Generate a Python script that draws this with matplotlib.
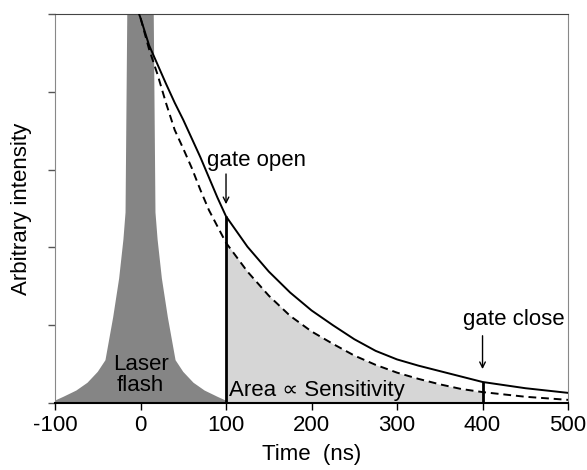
import numpy as np
import matplotlib
matplotlib.use("Agg")
import matplotlib.pyplot as plt

plt.rcParams["font.family"] = ["Liberation Sans", "DejaVu Sans"]
plt.rcParams["axes.unicode_minus"] = False

# laser flash profile (ns, arbitrary units)
flash_t = [-100, -90, -75, -62, -50, -41, -32, -25, -20, -17.5, -15, -10, 0,
           10, 15, 17.5, 20, 25, 32, 41, 50, 62, 75, 90, 100]
flash_y = [0.03, 0.08, 0.16, 0.26, 0.40, 0.55, 1.10, 1.60, 2.10, 2.45, 5.60, 6.5, 7.0,
           6.5, 5.60, 2.45, 2.10, 1.60, 1.10, 0.55, 0.40, 0.26, 0.16, 0.08, 0.03]

# decay curves
decay_t = [-5, 0, 10, 20, 30, 40, 50, 60, 70, 80, 90, 100, 125, 150, 175,
           200, 225, 250, 275, 300, 325, 350, 375, 400, 450, 500]
solid_y = [5.10, 4.95, 4.60, 4.35, 4.10, 3.86, 3.64, 3.40, 3.16, 2.90, 2.64, 2.40,
           2.01, 1.69, 1.42, 1.19, 1.00, 0.82, 0.67, 0.56, 0.48, 0.41, 0.34, 0.27,
           0.19, 0.13]
dashed_y = [5.10, 4.95, 4.55, 4.22, 3.85, 3.51, 3.27, 3.02, 2.74, 2.48, 2.27, 2.06,
            1.69, 1.38, 1.12, 0.92, 0.76, 0.61, 0.49, 0.39, 0.31, 0.24, 0.18, 0.14,
            0.08, 0.04]

gate_open = 100
gate_close = 400

fig = plt.figure(figsize=(5.87, 4.70), dpi=100)
ax = fig.add_axes([0.0937, 0.1426, 0.874, 0.8274])

# laser flash
ax.fill_between(flash_t, flash_y, 0, color="#858585", lw=0, zorder=1)

# shaded area under dashed curve inside the gate
t = np.array(decay_t)
d = np.array(dashed_y)
s = np.array(solid_y)
m = (t >= gate_open) & (t <= gate_close)
ax.fill_between(t[m], d[m], 0, color="#d6d6d6", lw=0, zorder=1)

ax.plot(decay_t, solid_y, color="black", lw=1.4, zorder=3)
ax.plot(decay_t, dashed_y, color="black", lw=1.4, ls=(0, (4, 2.5)), zorder=3)

# gate lines
ax.vlines(gate_open, 0, s[t == gate_open][0], color="black", lw=2, zorder=4)
ax.vlines(gate_close, 0, s[t == gate_close][0], color="black", lw=2, zorder=4)

# annotations
ax.annotate("", xy=(gate_open, 2.52), xytext=(gate_open, 2.98),
            arrowprops=dict(arrowstyle="->", color="black", lw=1))
ax.text(136, 3.12, "gate open", fontsize=16, ha="center", va="center")
ax.annotate("", xy=(gate_close, 0.40), xytext=(gate_close, 0.90),
            arrowprops=dict(arrowstyle="->", color="black", lw=1))
ax.text(436, 1.07, "gate close", fontsize=16, ha="center", va="center")
ax.text(0, 0.36, "Laser\nflash", fontsize=16, ha="center", va="center",
        linespacing=0.95)
ax.text(104, 0.16, "Area \u221d Sensitivity", fontsize=16, ha="left", va="center")

ax.set_xlim(-100, 500)
ax.set_ylim(0, 5)
ax.set_xticks([-100, 0, 100, 200, 300, 400, 500])
ax.set_yticks([0, 1, 2, 3, 4, 5])
ax.set_yticklabels([])
ax.tick_params(axis="x", labelsize=16, direction="out", length=5, width=1)
ax.tick_params(axis="y", direction="out", length=5, width=1, color="#555555")
ax.set_xlabel("Time  (ns)", fontsize=16, labelpad=6)
ax.set_ylabel("Arbitrary intensity", fontsize=16, labelpad=8)

ax.spines["bottom"].set_linewidth(1.5)
ax.spines["top"].set_color("#444444")
ax.spines["left"].set_color("#888888")
ax.spines["right"].set_color("#888888")

fig.savefig("out.png", dpi=100)
